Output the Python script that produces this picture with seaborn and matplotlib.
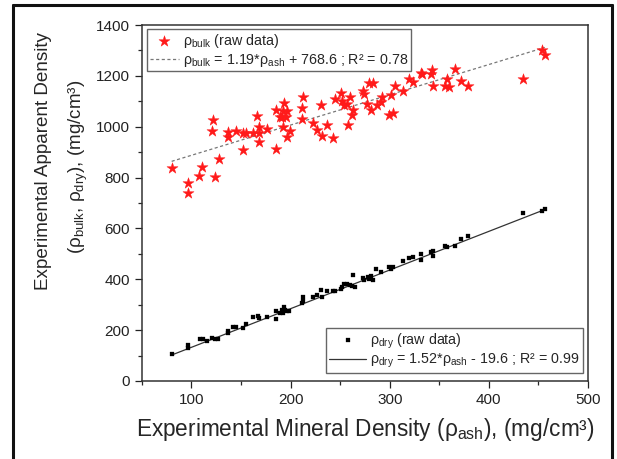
import numpy as np
import pandas as pd
import matplotlib
matplotlib.use("Agg")
import matplotlib.pyplot as plt
import seaborn as sns
from matplotlib.lines import Line2D
from matplotlib.ticker import MultipleLocator

# bulk density (raw data)
bulk_ash = [80, 96.7, 96, 107.8, 110.5, 124, 127.7, 121.3, 121, 136.5,
            137, 144.5, 152.3, 155, 161.7, 151.6, 166.4, 167.7, 168, 168.4,
            175.8, 185.2, 185.2, 189.3, 191.3, 193.3, 192.6, 196, 195.3, 192.6,
            199.3, 196, 212, 211.5, 211.5, 222.8, 226.3, 230.3, 231.6, 237,
            243, 245, 250.5, 251.8, 253.8, 256.5, 260, 263.3, 262, 257.9,
            273.3, 274, 278.8, 283.4, 277.4, 281.4, 286.8, 291.5, 292.2, 299.6,
            303, 301, 305, 313, 319, 323.8, 331.8, 332.5, 341.3, 342.6,
            344, 358, 356, 359.5, 365.5, 372.2, 379, 434.8, 453.6, 456.4]
bulk_rho = [836, 777, 741, 806, 840, 803, 872, 1026, 984, 980,
            958, 982, 974, 974, 974, 908, 1042, 997, 974, 939,
            992, 911, 1064, 1039, 1037, 1092, 1063, 1063, 1037, 1000,
            984, 958, 1115, 1074, 1031, 1016, 987, 1087, 963, 1008,
            956, 1108, 1134, 1100, 1084, 1088, 1115, 1066, 1045, 1008,
            1142, 1127, 1173, 1173, 1089, 1066, 1084, 1097, 1118, 1047,
            1053, 1123, 1162, 1139, 1186, 1176, 1212, 1206, 1207, 1223,
            1162, 1189, 1162, 1155, 1226, 1178, 1162, 1189, 1302, 1283]

# dry density (raw data)
dry_ash = [80, 96.7, 96.7, 108.5, 111.2, 115.9, 120.3, 123.6, 127, 136.8,
           136.8, 141.5, 144.8, 151.6, 155, 161.7, 167.4, 167.7, 175.8, 185.2,
           185.2, 189.3, 191.3, 193.3, 194.6, 196, 198, 192.6, 212, 212,
           211.5, 222.8, 226.3, 230.3, 231.6, 237, 243, 245, 250.5, 251.8,
           253.8, 256.5, 260, 263.3, 265.4, 262, 273.3, 274, 278.8, 283.4,
           278, 281.4, 286.1, 290.8, 299.6, 303.7, 301.6, 313.7, 319, 323.8,
           331.8, 331.8, 341.3, 344, 344, 356, 358, 365.5, 372.2, 379,
           434.8, 453.6, 456.4]
dry_rho = [105, 129, 142, 164, 167, 158, 169, 167, 167, 187,
           198, 211, 214, 208, 224, 253, 256, 248, 253, 243,
           277, 266, 279, 292, 279, 274, 274, 269, 329, 316,
           308, 332, 340, 358, 332, 353, 353, 355, 363, 369,
           381, 381, 376, 418, 371, 373, 405, 397, 402, 397,
           410, 413, 442, 429, 450, 447, 442, 470, 484, 489,
           499, 476, 507, 510, 492, 531, 528, 531, 560, 570,
           659, 670, 675]

# linear fits as reported on the chart
bulk_fit = (1.19, 768.6)
dry_fit = (1.52, -19.6)

sns.set_style("ticks")
plt.rcParams["font.family"] = ["Liberation Sans", "DejaVu Sans"]
plt.rcParams["mathtext.fontset"] = "custom"
plt.rcParams["mathtext.rm"] = "Liberation Sans"
plt.rcParams["mathtext.it"] = "Liberation Sans"
plt.rcParams["mathtext.default"] = "regular"

fig = plt.figure(figsize=(6.17, 4.59), dpi=100)
ax = fig.add_axes([0.230, 0.170, 0.723, 0.7755])

bulk = pd.DataFrame({"ash": bulk_ash, "rho": bulk_rho})
dry = pd.DataFrame({"ash": dry_ash, "rho": dry_rho})
xb = np.array([min(bulk_ash), max(bulk_ash)])
xd = np.array([min(dry_ash), max(dry_ash)])
bulk_line = pd.DataFrame({"ash": xb, "rho": bulk_fit[0] * xb + bulk_fit[1]})
dry_line = pd.DataFrame({"ash": xd, "rho": dry_fit[0] * xd + dry_fit[1]})

lab_bulk = "ρ$_{bulk}$ (raw data)"
lab_bulk_fit = "ρ$_{bulk}$ = 1.19*ρ$_{ash}$ + 768.6 ; R² = 0.78"
lab_dry = "ρ$_{dry}$ (raw data)"
lab_dry_fit = "ρ$_{dry}$ = 1.52*ρ$_{ash}$ - 19.6 ; R² = 0.99"

sns.lineplot(data=bulk_line, x="ash", y="rho", ax=ax, color="#777777",
             linestyle=(0, (2.5, 2)), linewidth=0.9, label=lab_bulk_fit)
sns.lineplot(data=dry_line, x="ash", y="rho", ax=ax, color="#333333",
             linewidth=0.9, label=lab_dry_fit)
sns.scatterplot(data=bulk, x="ash", y="rho", ax=ax, marker="*", s=70,
                color="#ff1a1a", edgecolor="#ff1a1a", linewidth=0.3,
                label=lab_bulk, zorder=3)
sns.scatterplot(data=dry, x="ash", y="rho", ax=ax, marker="s", s=12,
                color="black", edgecolor="black", linewidth=0.2,
                label=lab_dry, zorder=3)

ax.set_xlim(50, 500)
ax.set_ylim(0, 1400)
ax.xaxis.set_major_locator(MultipleLocator(100))
ax.xaxis.set_minor_locator(MultipleLocator(50))
ax.yaxis.set_major_locator(MultipleLocator(200))
ax.yaxis.set_minor_locator(MultipleLocator(100))
ax.tick_params(which="major", direction="out", length=5, width=0.9,
               labelsize=11, colors="#222222")
ax.tick_params(which="minor", direction="out", length=3, width=0.9)
for sp in ax.spines.values():
    sp.set_visible(True)
    sp.set_linewidth(1.1)
    sp.set_color("#333333")

ax.set_xlabel("Experimental Mineral Density (ρ$_{ash}$), (mg/cm³)",
              fontsize=16.3, labelpad=7)
ax.set_ylabel("")
fig.text(0.071, 0.65, "Experimental Apparent Density", rotation=90,
         fontsize=13.6, ha="center", va="center")
fig.text(0.127, 0.636, "(ρ$_{bulk}$, ρ$_{dry}$), (mg/cm³)",
         rotation=90, fontsize=13.5, ha="center", va="center")

handles, labels = ax.get_legend_handles_labels()
hmap = dict(zip(labels, handles))
leg_kw = dict(fontsize=10.3, fancybox=False, edgecolor="#666666",
              framealpha=1, borderpad=0.2, labelspacing=0.1,
              handletextpad=0.3, borderaxespad=0)
leg1 = ax.legend([hmap[lab_bulk], hmap[lab_bulk_fit]], [lab_bulk, lab_bulk_fit],
                 loc="upper left", bbox_to_anchor=(0.012, 0.988),
                 handlelength=2.0, **leg_kw)
leg1.get_frame().set_linewidth(1.0)
ax.add_artist(leg1)
leg2 = ax.legend([hmap[lab_dry], hmap[lab_dry_fit]], [lab_dry, lab_dry_fit],
                 loc="lower right", bbox_to_anchor=(0.988, 0.022),
                 handlelength=2.6, **leg_kw)
leg2.get_frame().set_linewidth(1.0)

# outer frame of the figure
fig.add_artist(Line2D([0.021, 0.021], [-0.05, 0.989], color="#111111",
                      linewidth=2.2, transform=fig.transFigure))
fig.add_artist(Line2D([0.021, 0.992], [0.989, 0.989], color="#111111",
                      linewidth=2.2, transform=fig.transFigure))
fig.add_artist(Line2D([0.992, 0.992], [-0.05, 0.989], color="#111111",
                      linewidth=2.2, transform=fig.transFigure))

fig.savefig("out.png", dpi=100)
